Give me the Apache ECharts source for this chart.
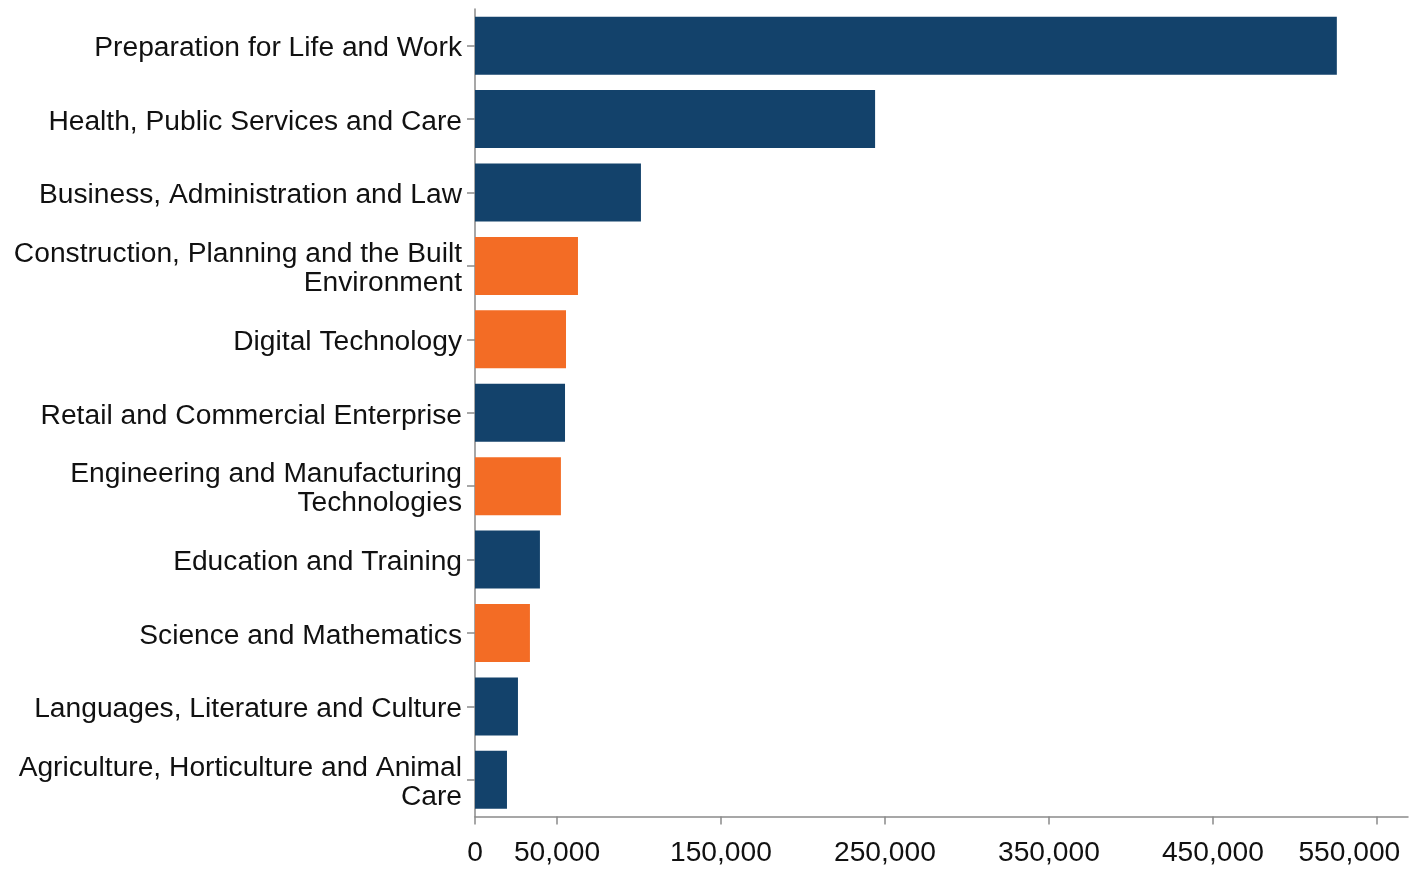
<!DOCTYPE html>
<html>
<head>
<meta charset="utf-8">
<script src="https://cdn.jsdelivr.net/npm/echarts@6/dist/echarts.min.js"></script>
<style>
html,body{margin:0;padding:0;background:#fff;}
#chart{width:1419px;height:869px;}
</style>
</head>
<body>
<div id="chart"></div>
<script>
const categories = [
  'Preparation for Life and Work',
  'Health, Public Services and Care',
  'Business, Administration and Law',
  'Construction, Planning and the Built\nEnvironment',
  'Digital Technology',
  'Retail and Commercial Enterprise',
  'Engineering and Manufacturing\nTechnologies',
  'Education and Training',
  'Science and Mathematics',
  'Languages, Literature and Culture',
  'Agriculture, Horticulture and Animal\nCare'
];
const values = [525600, 244000, 101200, 62800, 55500, 54900, 52400, 39600, 33500, 26200, 19500];
const highlighted = [false, false, false, true, true, false, true, false, true, false, false];
const xTicks = [0, 50000, 150000, 250000, 350000, 450000, 550000];

const BLUE = '#13426B', ORANGE = '#F36C25';
const FONT = 'Liberation Sans, Arial, sans-serif';
const lastTick = xTicks[xTicks.length - 1];
const chart = echarts.init(document.getElementById('chart'));
chart.setOption({
  animation: false,
  grid: {left: 475, right: 11, top: 9, bottom: 52.5, containLabel: false, outerBoundsMode: 'none'},
  xAxis: {
    type: 'value', min: 0, max: 569000,
    axisLine: {show: true, lineStyle: {color: '#8a8a8a', width: 1.5}},
    axisTick: {show: true, length: 8, lineStyle: {color: '#8a8a8a', width: 1.5}, customValues: xTicks},
    axisLabel: {
      customValues: xTicks, margin: 23,
      fontFamily: FONT, fontSize: 28.2, color: '#111',
      formatter: v => v === lastTick ? '{last|' + v.toLocaleString('en-US') + '}' : v.toLocaleString('en-US'),
      rich: {last: {fontFamily: FONT, fontSize: 28.2, color: '#111', padding: [0, 55, 0, 0]}}
    },
    splitLine: {show: false}
  },
  yAxis: {
    type: 'category', data: categories, inverse: true,
    axisLine: {show: true, lineStyle: {color: '#8a8a8a', width: 1.5}},
    axisTick: {show: true, alignWithLabel: true, length: 8, lineStyle: {color: '#8a8a8a', width: 1.5}},
    axisLabel: {
      margin: 13, fontFamily: FONT, fontSize: 28.2,
      lineHeight: 29, color: '#111', align: 'right',
      formatter: s => '{s| }\n' + s.split('\n').map(line => '{n|' + line + '}').join('\n'),
      rich: {
        s: {fontSize: 1, lineHeight: 6},
        n: {fontFamily: FONT, fontSize: 28.2, color: '#111', lineHeight: 29}
      }
    }
  },
  series: [{
    type: 'bar',
    barCategoryGap: '21%',
    data: values.map((v, i) => ({value: v, itemStyle: {color: highlighted[i] ? ORANGE : BLUE}}))
  }]
});
</script>
</body>
</html>
